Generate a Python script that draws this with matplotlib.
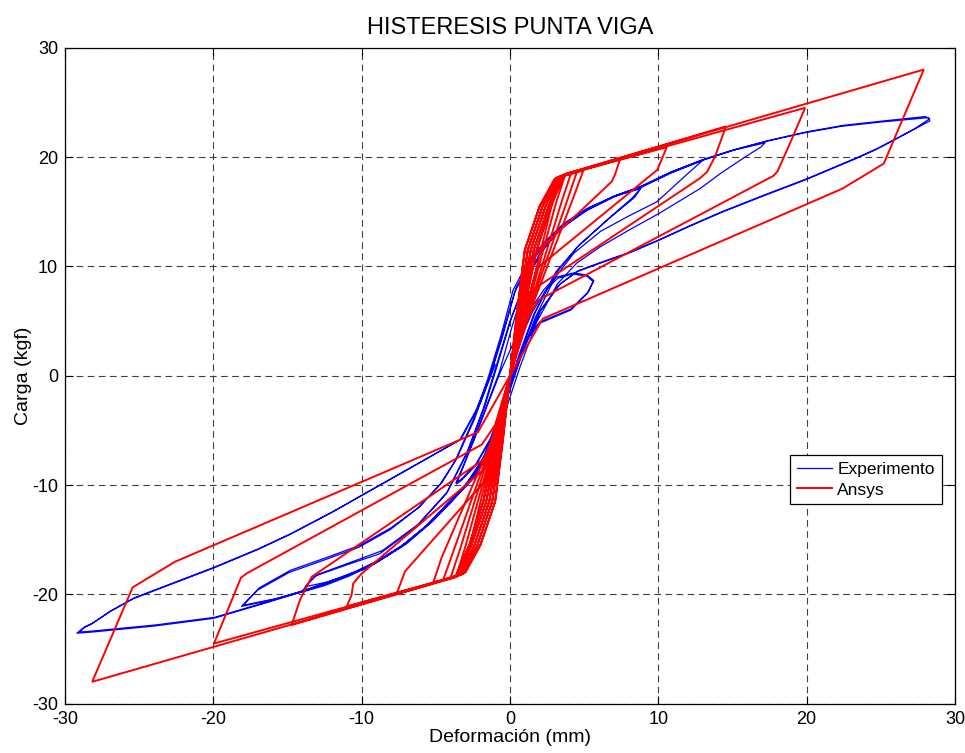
import matplotlib
matplotlib.use("Agg")
import matplotlib.pyplot as plt

plt.rcParams['font.family'] = ['Liberation Sans', 'DejaVu Sans']
plt.rcParams['axes.unicode_minus'] = False

# ---------------- Experimental hysteresis (load vs tip deflection) ----------------
exp_c1 = [(0.0, 0.0), (0.6, 3.0), (1.5, 5.8), (2.4, 7.8), (3.2, 8.9), (4.2, 9.3), (5.2, 9.1),
          (5.6, 8.6), (5.2, 7.5), (4.1, 6.0), (2.0, 4.8), (1.3, 3.6), (0.4, 0.8), (-0.4, -2.5),
          (-1.3, -5.8), (-2.3, -8.2), (-3.3, -9.6), (-3.6, -9.9), (-3.2, -8.5), (-2.4, -5.8),
          (-1.5, -2.6), (-0.6, 0.5), (0.3, 3.2), (1.3, 5.9), (2.3, 7.9), (3.1, 9.0), (4.3, 9.4),
          (5.2, 9.2), (5.65, 8.7), (5.3, 7.7), (4.1, 6.1), (2.0, 4.9), (1.3, 3.7), (0.4, 0.9),
          (-0.4, -2.4), (-1.3, -5.7), (-2.3, -8.1), (-3.3, -9.5), (-3.65, -9.8), (-3.2, -8.4),
          (-2.4, -5.7), (-1.5, -2.5), (-0.7, 0.4)]
exp_c2 = [(0.1, 4.3), (0.9, 7.9), (1.9, 10.9), (3.2, 13.2), (5.0, 15.0), (7.0, 16.4), (8.8, 17.1),
          (8.2, 16.2), (6.5, 14.2), (4.5, 11.7), (3.0, 9.2), (1.6, 5.6), (0.5, 1.5), (-0.4, -2.5),
          (-1.3, -6.3), (-2.4, -9.0), (-3.6, -11.0), (-5.2, -13.3), (-7.0, -15.4), (-9.0, -17.1),
          (-10.8, -18.3), (-12.5, -19.2), (-14.05, -19.8), (-13.3, -18.4), (-11.0, -17.3),
          (-8.8, -16.3), (-6.3, -13.8), (-4.3, -10.8), (-2.9, -7.0), (-1.8, -3.0), (-0.9, 1.0)]
exp_c3 = [(0.0, 5.0), (1.0, 8.5), (2.1, 11.3), (3.4, 13.4), (5.2, 15.2), (7.2, 16.5), (8.9, 17.3),
          (8.4, 16.3), (6.7, 14.4), (4.7, 12.0), (3.1, 9.5), (1.7, 5.8), (0.6, 1.6), (-0.3, -2.3),
          (-1.2, -6.0), (-2.3, -8.8), (-3.5, -10.8), (-5.1, -13.1), (-6.9, -15.2), (-8.9, -16.9),
          (-10.7, -18.1), (-12.4, -18.9), (-13.8, -19.3), (-13.0, -18.2), (-10.8, -17.1),
          (-8.6, -16.0), (-6.2, -13.6), (-4.2, -10.6), (-2.8, -6.8), (-1.7, -2.8), (-0.8, 1.2)]
exp_c4 = [(0.1, 5.3), (1.1, 8.8), (2.2, 11.5), (3.5, 13.6), (5.2, 15.2), (7.0, 16.4), (8.8, 17.2),
          (10.8, 18.5), (13.0, 19.7), (12.0, 18.5), (9.9, 15.9), (8.0, 14.6), (6.1, 13.2),
          (4.3, 11.2), (3.0, 8.9), (1.7, 5.3), (0.6, 1.2), (-0.4, -3.0), (-1.4, -6.9), (-2.6, -9.5),
          (-4.0, -11.6), (-5.5, -13.6), (-7.3, -15.6), (-9.3, -17.3), (-11.5, -18.5), (-14.0, -19.7),
          (-15.8, -20.4), (-18.0, -21.0), (-16.9, -19.4), (-14.8, -17.8), (-12.3, -16.6),
          (-10.1, -15.5), (-8.0, -13.9), (-6.1, -12.0), (-4.6, -9.8), (-3.6, -7.6), (-2.4, -4.0),
          (-1.4, -0.2), (-0.5, 3.8)]
exp_c5 = [(0.3, 7.6), (1.3, 10.2), (2.4, 12.0), (3.7, 13.8), (5.3, 15.2), (7.1, 16.4), (8.9, 17.3),
          (10.9, 18.6), (13.0, 19.7), (15.0, 20.6), (17.2, 21.3), (16.9, 20.9), (15.85, 20.0),
          (14.2, 18.5), (12.8, 17.1), (10.0, 14.8), (8.0, 13.3), (6.1, 11.8), (4.5, 10.3),
          (3.2, 8.4), (1.8, 4.9), (0.7, 0.9), (-0.3, -3.2), (-1.3, -7.0), (-2.6, -9.6), (-4.1, -11.7),
          (-5.6, -13.7), (-7.4, -15.7), (-9.4, -17.4), (-11.6, -18.6), (-14.1, -19.8),
          (-16.0, -20.5), (-18.1, -21.1), (-17.0, -19.6), (-14.9, -18.0), (-12.4, -16.8),
          (-10.2, -15.7), (-8.1, -14.1), (-6.2, -12.1), (-4.7, -9.9), (-3.7, -7.8), (-2.5, -4.1),
          (-1.5, -0.3), (-0.6, 3.7)]
exp_c6 = [(0.2, 7.8), (1.2, 10.4), (2.3, 12.2), (3.6, 13.9), (5.2, 15.3), (7.0, 16.4), (8.8, 17.3),
          (10.8, 18.6), (12.9, 19.7), (15.0, 20.6), (17.2, 21.4), (19.8, 22.2), (22.3, 22.8),
          (25.0, 23.2), (28.2, 23.6), (28.3, 23.3), (27.2, 22.5), (26.1, 21.7), (24.7, 20.7),
          (23.4, 19.9), (19.9, 17.9), (17.0, 16.4), (14.2, 14.9), (12.0, 13.6), (9.9, 12.3),
          (8.0, 11.2), (6.1, 10.3), (4.5, 9.5), (3.3, 8.3), (2.0, 5.9), (1.0, 2.9), (0.1, -0.4),
          (-0.8, -4.0), (-1.8, -7.5), (-3.0, -10.0), (-4.3, -11.8), (-5.7, -13.8), (-7.5, -15.8),
          (-9.5, -17.5), (-11.7, -18.7), (-14.1, -19.8), (-16.5, -20.8), (-20.0, -22.2),
          (-24.0, -22.9), (-27.0, -23.3), (-28.2, -23.45), (-29.2, -23.55), (-28.8, -23.1),
          (-28.2, -22.7), (-27.0, -21.6), (-25.4, -20.4), (-22.5, -18.9), (-20.0, -17.6),
          (-17.0, -15.9), (-14.8, -14.5), (-12.0, -12.5), (-9.0, -10.2), (-6.0, -7.9),
          (-3.4, -5.9), (-2.3, -3.2), (-1.3, 0.1), (-0.5, 3.6)]
exp_c7 = [(0.4, 8.0), (1.4, 10.6), (2.5, 12.3), (3.8, 14.0), (5.4, 15.4), (7.2, 16.5), (9.0, 17.4),
          (11.0, 18.7), (13.1, 19.8), (15.2, 20.7), (17.4, 21.5), (20.0, 22.3), (22.5, 22.9),
          (25.2, 23.3), (28.0, 23.7), (28.3, 23.5), (27.3, 22.6), (26.2, 21.8), (24.8, 20.8),
          (23.5, 20.0), (20.0, 18.0), (17.1, 16.5), (14.3, 15.0), (12.1, 13.7), (10.0, 12.4),
          (8.1, 11.3), (6.2, 10.4), (4.6, 9.6), (3.4, 8.4), (2.1, 6.0), (1.1, 3.0), (0.2, -0.3),
          (-0.7, -3.9), (-1.7, -7.4), (-2.9, -9.9), (-4.2, -11.7), (-5.6, -13.7), (-7.4, -15.7),
          (-9.4, -17.4), (-11.6, -18.6), (-14.0, -19.7), (-16.4, -20.7), (-19.9, -22.1),
          (-23.9, -22.8), (-26.9, -23.2), (-28.1, -23.35), (-29.0, -23.45), (-28.7, -23.0),
          (-28.1, -22.6), (-26.9, -21.5), (-25.3, -20.3), (-22.4, -18.8), (-19.9, -17.5),
          (-16.9, -15.8), (-14.7, -14.4), (-11.9, -12.4), (-8.9, -10.1), (-5.9, -7.8),
          (-3.3, -5.8), (-2.0, -2.5), (-1.0, 1.0)]

# ---------------- ANSYS model response (piecewise linear) ----------------
ansys_c1 = [(0.0, 0.0), (0.45, 5.5), (1.0, 11.5), (2.0, 15.5), (3.0, 18.0), (3.4, 18.15),
            (2.8, 15.5), (1.1, 6.0), (0.0, 0.0), (-0.45, -5.5), (-1.0, -11.5), (-2.0, -15.5),
            (-3.0, -18.0), (-3.3, -18.1), (-2.7, -15.5), (-1.0, -6.0), (0.0, 0.0)]
ansys_c2 = [(0.45, 5.5), (1.0, 11.5), (2.0, 15.5), (3.1, 18.05), (3.7, 18.3), (3.1, 15.8),
            (1.15, 6.0), (0.0, 0.0), (-0.45, -5.5), (-1.0, -11.5), (-2.0, -15.5), (-3.1, -18.05),
            (-3.6, -18.25), (-3.0, -15.6), (-1.05, -6.0), (0.0, 0.0)]
ansys_c3 = [(0.55, 5.5), (1.2, 11.5), (2.2, 15.5), (3.15, 18.1), (4.1, 18.45), (3.5, 16.0),
            (1.25, 6.0), (0.0, 0.0), (-0.55, -5.5), (-1.2, -11.5), (-2.2, -15.5), (-3.15, -18.1),
            (-4.0, -18.45), (-3.35, -15.8), (-1.15, -6.0), (0.0, 0.0)]
ansys_c4 = [(0.55, 5.5), (1.2, 11.5), (2.2, 15.5), (3.2, 18.15), (4.5, 18.6), (3.9, 16.2),
            (1.3, 6.0), (0.0, 0.0), (-0.55, -5.5), (-1.2, -11.5), (-2.2, -15.5), (-3.2, -18.15),
            (-4.5, -18.65), (-3.8, -16.0), (-1.2, -6.0), (0.0, 0.0)]
ansys_c5 = [(0.65, 5.5), (1.4, 11.5), (2.4, 15.5), (3.3, 18.2), (4.94, 18.75), (4.3, 16.4),
            (1.45, 6.2), (0.0, 0.0), (-0.65, -5.5), (-1.4, -11.5), (-2.4, -15.5), (-3.3, -18.2),
            (-5.17, -18.9), (-4.6, -16.6), (-1.3, -6.2), (0.0, 0.0)]
ansys_c6 = [(0.65, 5.5), (1.4, 11.5), (2.4, 15.5), (3.4, 18.25), (7.42, 19.8), (7.08, 18.4),
            (6.86, 17.75), (1.5, 10.9), (0.7, 5.0), (0.0, 0.0), (-0.65, -5.5), (-1.4, -11.5),
            (-2.4, -15.5), (-3.4, -18.25), (-7.64, -19.95), (-7.08, -17.9), (-1.6, -9.5),
            (-0.7, -5.0), (0.0, 0.0)]
ansys_c7 = [(0.75, 5.5), (1.6, 11.5), (2.6, 15.5), (3.5, 18.3), (10.57, 20.9), (9.93, 18.82),
            (1.8, 9.8), (0.8, 5.0), (0.0, 0.0), (-0.75, -5.5), (-1.6, -11.5), (-2.6, -15.5),
            (-3.5, -18.3), (-11.0, -21.1), (-10.68, -20.06), (-10.57, -19.0), (-10.0, -18.1),
            (-1.6, -8.4), (-0.8, -5.0), (0.0, 0.0)]
ansys_c8 = [(0.75, 5.5), (1.6, 11.5), (2.6, 15.5), (3.55, 18.35), (14.56, 22.8), (13.82, 20.04),
            (13.3, 18.66), (12.81, 18.06), (1.7, 8.0), (0.9, 5.0), (0.0, 0.0), (-0.75, -5.5),
            (-1.6, -11.5), (-2.6, -15.5), (-3.55, -18.35), (-14.72, -22.8), (-14.16, -20.5),
            (-13.37, -18.4), (-1.7, -7.6), (-0.9, -4.8), (0.0, 0.0)]
ansys_c9 = [(0.85, 5.5), (1.8, 11.5), (2.75, 15.5), (3.6, 18.35), (19.9, 24.5), (18.88, 21.26),
            (18.03, 18.67), (17.75, 18.27), (1.9, 6.9), (1.0, 4.8), (0.0, 0.0), (-0.85, -5.5),
            (-1.8, -11.5), (-2.75, -15.5), (-3.6, -18.35), (-19.96, -24.5), (-18.14, -18.48),
            (-17.75, -18.08), (-1.9, -6.3), (-1.0, -4.5), (0.0, 0.0)]
ansys_c10 = [(0.85, 5.5), (1.8, 11.5), (2.75, 15.5), (3.7, 18.45), (27.9, 28.0), (25.2, 19.4),
             (22.4, 17.1), (2.2, 5.2), (0.0, 0.0), (-0.85, -5.5), (-1.8, -11.5), (-2.75, -15.5),
             (-3.7, -18.45), (-28.17, -28.0), (-25.44, -19.36), (-22.59, -17.02), (-2.16, -5.16),
             (0.0, 0.0)]

exp_cycles = [exp_c1, exp_c2, exp_c3, exp_c4, exp_c5, exp_c6, exp_c7]
ansys_cycles = [ansys_c1, ansys_c2, ansys_c3, ansys_c4, ansys_c5,
                ansys_c6, ansys_c7, ansys_c8, ansys_c9, ansys_c10]

x_ticks = [-30, -20, -10, 0, 10, 20, 30]
y_ticks = [-30, -20, -10, 0, 10, 20, 30]

exp_pts = [p for c in exp_cycles for p in c]
ansys_pts = [p for c in ansys_cycles for p in c]

fig = plt.figure(figsize=(9.65, 7.53), dpi=100)
ax = fig.add_axes([0.0674, 0.0655, 0.9222, 0.8712])

ax.plot([p[0] for p in exp_pts], [p[1] for p in exp_pts], color=(0, 0, 1),
        lw=0.9, label='Experimento', zorder=3)
ax.plot([p[0] for p in ansys_pts], [p[1] for p in ansys_pts], color=(1, 0, 0),
        lw=1.4, label='Ansys', zorder=4, solid_joinstyle='miter')

ax.set_xlim(-30, 30)
ax.set_ylim(-30, 30)
ax.set_xticks(x_ticks)
ax.set_yticks(y_ticks)
ax.grid(True, color='0.25', lw=0.8, linestyle=(0, (6, 4)))
ax.set_axisbelow(True)
ax.tick_params(direction='in', top=True, right=True, length=6, width=0.8,
               labelsize=13, pad=5, colors='black')
for s in ax.spines.values():
    s.set_linewidth(0.9)
    s.set_color('black')

ax.set_title('HISTERESIS PUNTA VIGA', fontsize=17, pad=10)
ax.set_xlabel('Deformación (mm)', fontsize=14, labelpad=1)
ax.set_ylabel('Carga (kgf)', fontsize=14, labelpad=0)

leg = ax.legend(loc='upper left', bbox_to_anchor=(0.815, 0.379), fontsize=12.5,
                frameon=True, fancybox=False, edgecolor='black', framealpha=1,
                handlelength=2.0, handletextpad=0.3, borderpad=0.4, labelspacing=0.3,
                borderaxespad=0)
leg.get_frame().set_linewidth(0.9)

fig.savefig('out.png', dpi=100)
